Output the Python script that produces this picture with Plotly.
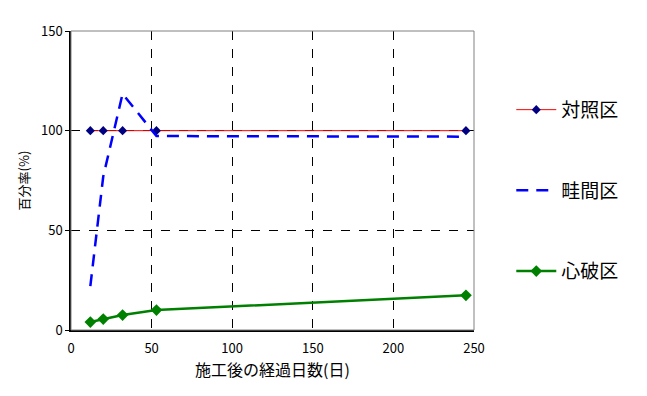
import plotly.graph_objects as go

days = [12, 20, 32, 53, 245]
control = [100, 100, 100, 100, 100]
furrow = [22, 77, 118.5, 97.3, 97]
heart = [4, 5.5, 7.5, 10, 17.4]

x_ticks = [0, 50, 100, 150, 200, 250]
y_ticks = [0, 50, 100, 150]

font = "Noto Sans CJK JP"

fig = go.Figure()
fig.add_trace(go.Scatter(x=days, y=control, name="対照区", mode="lines+markers",
                         line=dict(color="#ff0000", width=1),
                         marker=dict(symbol="diamond", size=7, color="#000080"),
                         legendgroup="a"))
fig.add_trace(go.Scatter(x=days, y=furrow, name="畦間区", mode="lines",
                         line=dict(color="#0000ff", width=2.5, dash="12px,8px"),
                         legendgroup="b"))
fig.add_trace(go.Scatter(x=days, y=heart, name="心破区", mode="lines+markers",
                         line=dict(color="#008000", width=2.5),
                         marker=dict(symbol="diamond", size=9, color="#008000"),
                         legendgroup="c"))

fig.update_layout(
    width=639, height=388,
    margin=dict(l=63, r=173, t=23, b=66, autoexpand=False),
    paper_bgcolor="white", plot_bgcolor="white",
    font=dict(family=font, size=12, color="black"),
    legend=dict(x=1.0925, y=0.80, xanchor="left", yanchor="top",
                font=dict(size=19), tracegroupgap=53, itemwidth=40,
                bgcolor="rgba(0,0,0,0)"),
    shapes=[dict(type="rect", xref="paper", yref="paper", x0=0, y0=0, x1=1, y1=1,
                 line=dict(color="#808080", width=1), layer="above")],
)
fig.update_xaxes(range=[0, 250], tickvals=x_ticks, showgrid=True, automargin=False,
                 gridcolor="black", griddash="dash", gridwidth=1,
                 showline=True, linecolor="black", linewidth=1.5,
                 ticks="", zeroline=False, tickfont=dict(size=13),
                 ticklabelstandoff=6,
                 title=dict(text="施工後の経過日数(日)", font=dict(size=16), standoff=4))
fig.update_yaxes(range=[0, 150], tickvals=y_ticks, showgrid=True, automargin=False,
                 gridcolor="black", griddash="dash", gridwidth=1,
                 showline=True, linecolor="black", linewidth=1.5,
                 ticks="outside", ticklen=4, tickcolor="black", zeroline=False,
                 tickfont=dict(size=13),
                 title=dict(text="百分率(%)", font=dict(size=13), standoff=8))
fig.write_html("out.html")
